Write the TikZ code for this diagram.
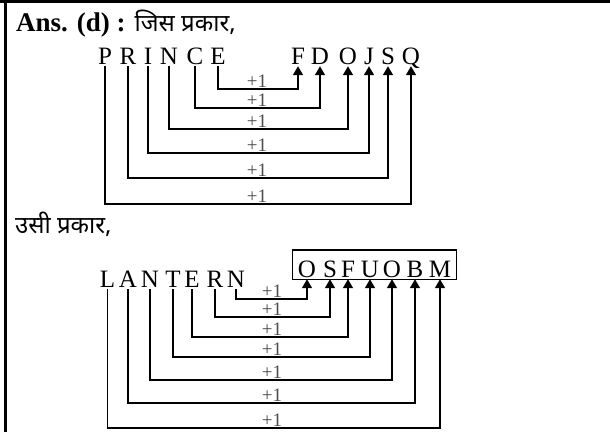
\documentclass[tikz,border=0pt]{standalone}
\usepackage{fontspec}
\setmainfont{Liberation Serif}
\newfontfamily\hindi[Script=Devanagari]{Noto Sans}
\usetikzlibrary{arrows.meta}
\usetikzlibrary{fit}
\newcommand{\GREY}[1]{\textcolor{black!70}{#1}}

\begin{document}
\begin{tikzpicture}[x=1pt,y=1pt,
    letter/.style={inner sep=0pt,anchor=base,text height=17pt,text depth=0pt,font=\fontsize{25}{25}\selectfont},
    boxletter/.style={letter,text height=27pt,text depth=2pt},
    link/.style={line width=1.6pt,shorten <=2pt,-{Triangle[width=10pt,length=9pt]}},
    plus/.style={inner sep=1pt,anchor=south,font=\fontsize{19}{19}\selectfont}]

    \useasboundingbox (0,0) rectangle (610,-432);

    \draw[line width=2.5pt] (0,-1.25) -- (610,-1.25);
    \draw[line width=3pt] (5,0) -- (5,-432);

    \node[anchor=base west,inner sep=0pt,font=\fontsize{27}{27}\selectfont] (ans) at (16,-31)
        {\textbf{Ans. (d) :} {\hindi\fontsize{24}{24}\selectfont जिस प्रकार,}};

    \foreach \ch/\x [count=\i] in {P/105,R/128,I/148,N/169,C/195,E/218} {
        \node[letter] (a\i) at (\x,-64) {\ch};
    }
    \foreach \ch/\x [count=\i] in {F/298,D/320,O/348,J/369,S/388,Q/411} {
        \node[letter] (b\i) at (\x,-64) {\ch};
    }

    \foreach \s/\d/\y in {6/1/89,5/2/108,4/3/129,3/4/153,2/5/178,1/6/204} {
        \draw[link,shorten >=2pt] (a\s.south) -- (a\s.south |- 0,-\y) -| (b\d.south);
        \node[plus] (pa\s) at (257,-\y) {\GREY{+1}};
    }

    \node[anchor=base west,inner sep=0pt] (usi) at (15,-233)
        {\hindi\fontsize{24}{24}\selectfont उसी प्रकार,};

    \foreach \ch/\x [count=\i] in {L/107.5,A/128,N/150,T/173,E/192,R/215,N/236} {
        \node[letter] (c\i) at (\x,-287) {\ch};
    }
    \foreach \ch/\x [count=\i] in {O/307,S/330,F/348,U/370,O/392,B/415,M/440} {
        \node[boxletter] (d\i) at (\x,-277) {\ch};
    }
    \node[draw,line width=1.4pt,inner xsep=5pt,inner ysep=0pt,fit=(d1)(d7)] (answer) {};

    \foreach \s/\d/\y in {7/1/299,6/2/317,5/3/337,4/4/357,3/5/380,2/6/403,1/7/428} {
        \draw[link] (c\s.south) -- (c\s.south |- 0,-\y) -| (d\d.south);
        \node[plus] (pc\s) at (272,-\y) {\GREY{+1}};
    }
  \end{tikzpicture}
\end{document}
